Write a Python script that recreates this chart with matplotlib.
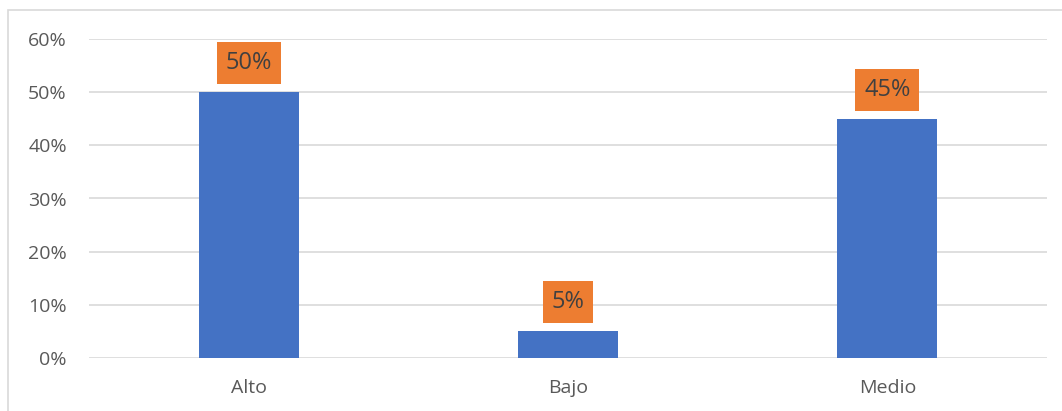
import matplotlib.pyplot as plt
from matplotlib.patches import Rectangle
from matplotlib.ticker import PercentFormatter

# niveles y porcentajes
categorias = ['Alto', 'Bajo', 'Medio']
porcentajes = [0.50, 0.05, 0.45]
etiquetas = ['50%', '5%', '45%']

plt.rcParams['font.family'] = ['Open Sans', 'DejaVu Sans']

fig = plt.figure(figsize=(10.62, 4.11), dpi=100)
ax = fig.add_axes([89 / 1062, 1 - 358 / 411, (1047 - 89) / 1062, (358 - 39) / 411])

# marco del gráfico
fig.patches.append(Rectangle((8 / 1062, -0.1), 1.2, 1 - 10 / 411 + 0.1,
                             transform=fig.transFigure, fill=False,
                             edgecolor='#D9D9D9', linewidth=1.2))

x = range(len(categorias))
barras = ax.bar(x, porcentajes, width=0.313, color='#4472C4', zorder=3)

for xi, val, txt in zip(x, porcentajes, etiquetas):
    ax.annotate(txt, (xi, val), xytext=(0, 21), textcoords='offset points',
                ha='center', va='center', fontsize=17, color='#404040',
                bbox=dict(boxstyle='square,pad=0.38', facecolor='#ED7D31',
                          edgecolor='none'), zorder=4)

ax.set_xlim(-0.5, 2.5)
ax.set_ylim(0, 0.6)
ax.set_yticks([0, 0.1, 0.2, 0.3, 0.4, 0.5, 0.6])
ax.yaxis.set_major_formatter(PercentFormatter(1.0, decimals=0))
ax.set_xticks(list(x))
ax.set_xticklabels(categorias)

ax.grid(axis='y', color='#D9D9D9', linewidth=1.2, zorder=0)
for s in ax.spines.values():
    s.set_visible(False)
ax.tick_params(axis='both', length=0, labelsize=14, labelcolor='#595959')
ax.tick_params(axis='y', pad=16)
ax.tick_params(axis='x', pad=15)

fig.savefig('out.png', dpi=100)
